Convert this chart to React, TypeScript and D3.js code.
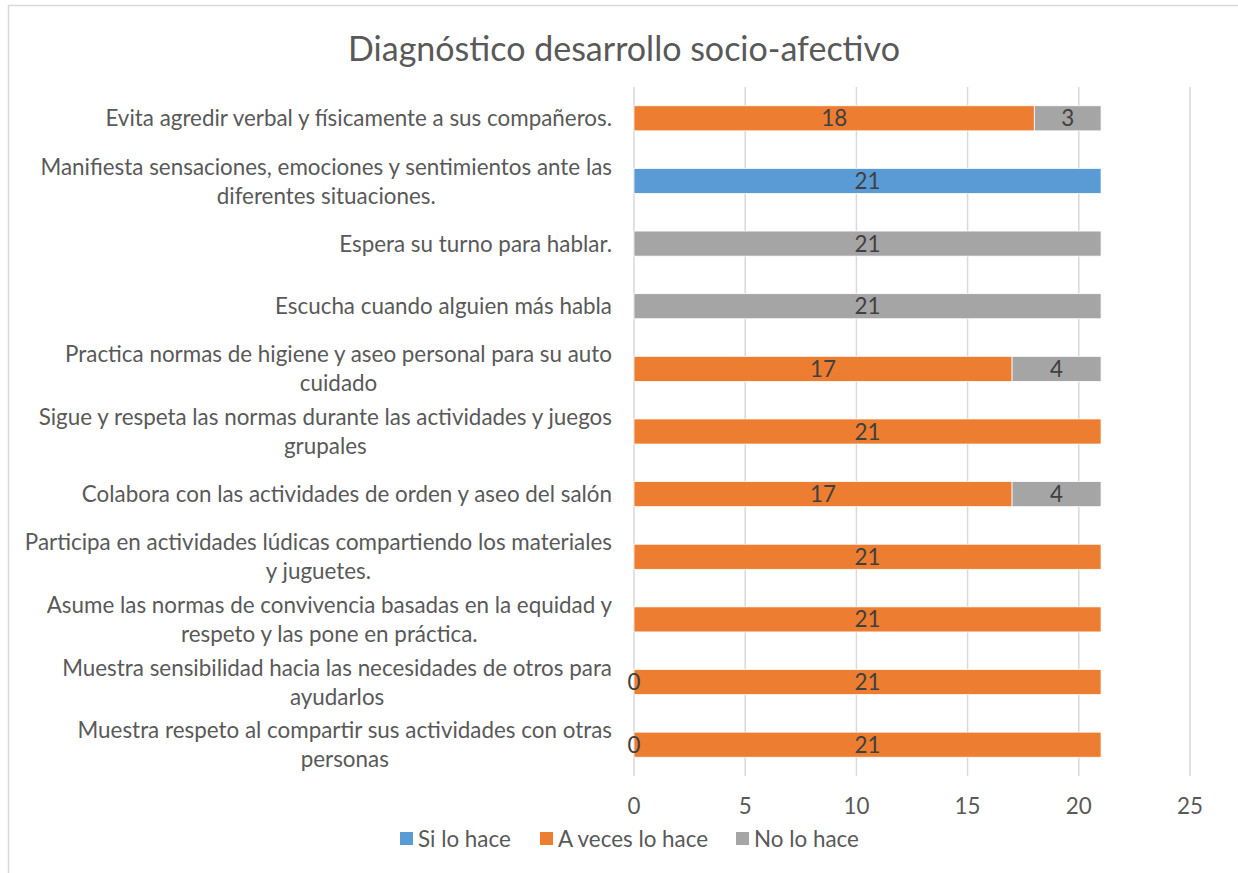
import { useEffect, useRef } from "react";
import * as d3 from "d3";

const categories = [
  "Evita agredir verbal y físicamente a sus compañeros.",
  "Manifiesta sensaciones, emociones y sentimientos ante las\ndiferentes situaciones.",
  "Espera su turno para hablar.",
  "Escucha cuando alguien más habla",
  "Practica normas de higiene y aseo personal para su auto\ncuidado",
  "Sigue y respeta las normas durante las actividades y juegos\ngrupales",
  "Colabora con las actividades de orden y aseo del salón",
  "Participa en actividades lúdicas compartiendo los materiales\ny juguetes.",
  "Asume las normas de convivencia basadas en la equidad y\nrespeto y las pone en práctica.",
  "Muestra sensibilidad hacia las necesidades de otros para\nayudarlos",
  "Muestra respeto al compartir sus actividades con otras\npersonas",
];

const siLoHace = [null, 21, null, null, null, null, null, null, null, 0, 0];
const aVecesLoHace = [18, null, null, null, 17, 21, 17, 21, 21, 21, 21];
const noLoHace = [3, null, 21, 21, 4, null, 4, null, null, null, null];

const seriesNames = ["Si lo hace", "A veces lo hace", "No lo hace"];
const seriesColors = ["#5b9bd5", "#ed7d31", "#a5a5a5"];
const xTicks = [0, 5, 10, 15, 20, 25];

const W = 1238;
const H = 873;
const FONT = "Lato, 'Open Sans', sans-serif";
const FS = 22.4;

export default function App() {
  const ref = useRef<SVGSVGElement>(null);

  useEffect(() => {
    if (!ref.current) return;
    const svg = d3.select(ref.current);
    svg.selectAll("*").remove();

    const left = 634, right = 1190, top = 87, bottom = 776;

    const x = d3.scaleLinear().domain([0, 25]).range([left, right]);
    const y = d3
      .scaleBand<number>()
      .domain(d3.range(categories.length))
      .range([top, bottom])
      .paddingInner(0.6)
      .paddingOuter(0.3);

    // chart border
    svg.append("rect")
      .attr("x", 8.5).attr("y", 5.5)
      .attr("width", W + 20).attr("height", H + 20)
      .attr("fill", "#fff").attr("stroke", "#d9d9d9").attr("stroke-width", 1.5);

    svg.append("text")
      .attr("x", 624).attr("y", 61)
      .attr("text-anchor", "middle")
      .attr("font-family", FONT).attr("font-size", 34)
      .attr("fill", "#595959")
      .text("Diagnóstico desarrollo socio-afectivo");

    // gridlines
    svg.append("g")
      .selectAll("line")
      .data(xTicks)
      .join("line")
      .attr("x1", (d) => x(d)).attr("x2", (d) => x(d))
      .attr("y1", top).attr("y2", bottom)
      .attr("stroke", "#d9d9d9").attr("stroke-width", 1.5);

    // tick labels
    svg.append("g")
      .selectAll("text")
      .data(xTicks)
      .join("text")
      .attr("x", (d) => x(d)).attr("y", 806)
      .attr("dy", "0.36em")
      .attr("text-anchor", "middle")
      .attr("font-family", FONT).attr("font-size", FS)
      .attr("fill", "#595959")
      .text((d) => d);

    // stacked bars
    const series = [siLoHace, aVecesLoHace, noLoHace];
    const bars = svg.append("g");
    const labels = svg.append("g");
    categories.forEach((_, i) => {
      let acc = 0;
      series.forEach((s, k) => {
        const v = s[i];
        if (v === null) return;
        const x0 = acc;
        const x1 = acc + v;
        acc = x1;
        if (v > 0) {
          bars.append("rect")
            .attr("x", x(x0)).attr("y", y(i)!)
            .attr("width", x(x1) - x(x0)).attr("height", y.bandwidth())
            .attr("fill", seriesColors[k])
            .attr("stroke", "#fff").attr("stroke-width", 0.75);
        }
        labels.append("text")
          .attr("x", (x(x0) + x(x1)) / 2)
          .attr("y", y(i)! + y.bandwidth() / 2)
          .attr("dy", "0.36em")
          .attr("text-anchor", "middle")
          .attr("font-family", FONT).attr("font-size", FS)
          .attr("fill", "#404040")
          .text(v);
      });
    });

    // category labels: block right aligned, lines centered within block
    const catG = svg.append("g");
    categories.forEach((c, i) => {
      const lines = c.split("\n");
      const cy = y(i)! + y.bandwidth() / 2;
      const lh = 29;
      const texts = lines.map((ln, j) =>
        catG.append("text")
          .attr("y", cy + (j - (lines.length - 1) / 2) * lh)
          .attr("dy", "0.36em")
          .attr("text-anchor", "middle")
          .attr("font-family", FONT).attr("font-size", FS)
          .attr("fill", "#595959")
          .text(ln)
      );
      const maxW = d3.max(texts, (t) => (t.node() as SVGTextElement).getComputedTextLength()) || 0;
      texts.forEach((t) => t.attr("x", 612 - maxW / 2));
    });

    // legend
    const legendX = [400, 540, 736];
    const lg = svg.append("g");
    seriesNames.forEach((n, k) => {
      lg.append("rect")
        .attr("x", legendX[k]).attr("y", 832)
        .attr("width", 13).attr("height", 13)
        .attr("fill", seriesColors[k]);
      lg.append("text")
        .attr("x", legendX[k] + 18).attr("y", 838.5)
        .attr("dy", "0.36em")
        .attr("font-family", FONT).attr("font-size", FS)
        .attr("fill", "#595959")
        .text(n);
    });
  }, []);

  return (
    <svg
      ref={ref}
      width={W}
      height={H}
      style={{ position: "absolute", left: 0, top: 0 }}
    />
  );
}
